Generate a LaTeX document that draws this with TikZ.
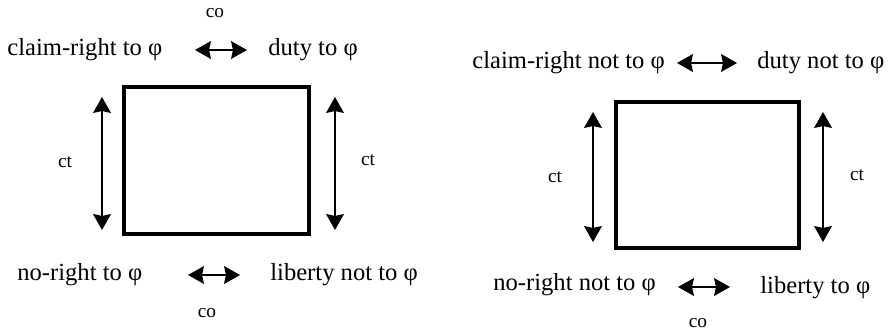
\documentclass[tikz,border=0pt]{standalone}
\usepackage{fontspec}
\setmainfont{Liberation Serif}
\usetikzlibrary{arrows.meta}

\begin{document}
\begin{tikzpicture}[x=0.02cm, y=-0.02cm,
    >={Stealth[length=9pt, width=10pt, inset=1pt]},
    term/.style={anchor=west, inner sep=0pt, font=\fontsize{14pt}{16pt}\selectfont},
    rel/.style={inner sep=0pt, font=\fontsize{11pt}{12pt}\selectfont},
    relarrow/.style={<->, line width=1.4pt},
    sq/.style={line width=2pt}]
    % Canvas of the reference (y runs downwards)
    \useasboundingbox (0,0) rectangle (893,331);

    % ================= Left square =================
    \node[term] (cr1) at (7,50) {claim-right to φ};
    \node[term] (du1) at (268,50) {duty to φ};
    \node[term] (nr1) at (17,275) {no-right to φ};
    \node[term] (lb1) at (270,275) {liberty not to φ};

    % Relation labels
    \node[rel] (co1) at (215,13) {co};
    \node[rel] (co2) at (207,313) {co};
    \node[rel] (ct1) at (65,162) {ct};
    \node[rel] (ct2) at (368,160) {ct};

    % Arrow ends
    \coordinate (t1a) at (195,50);
    \coordinate (t1b) at (247,50);
    \coordinate (b1a) at (188,275);
    \coordinate (b1b) at (240,275);
    \coordinate (l1a) at (102,97);
    \coordinate (l1b) at (102,230);
    \coordinate (r1a) at (335,97);
    \coordinate (r1b) at (335,230);

    \draw[sq] (124,87) rectangle (309,234);
    \draw[relarrow] (t1a) -- (t1b);
    \draw[relarrow] (b1a) -- (b1b);
    \draw[relarrow] (l1a) -- (l1b);
    \draw[relarrow] (r1a) -- (r1b);

    % ================= Right square =================
    \node[term] (cr2) at (472,63) {claim-right not to φ};
    \node[term] (du2) at (757,63) {duty not to φ};
    \node[term] (nr2) at (493,285) {no-right not to φ};
    \node[term] (lb2) at (760,288) {liberty to φ};

    % Relation labels
    \node[rel] (co3) at (698,323) {co};
    \node[rel] (ct3) at (555,177) {ct};
    \node[rel] (ct4) at (857,175) {ct};

    % Arrow ends
    \coordinate (t2a) at (677,63);
    \coordinate (t2b) at (737,63);
    \coordinate (b2a) at (678,287);
    \coordinate (b2b) at (730,287);
    \coordinate (l2a) at (593,112);
    \coordinate (l2b) at (593,242);
    \coordinate (r2a) at (823,112);
    \coordinate (r2b) at (823,242);

    \draw[sq] (616,102) rectangle (799,248);
    \draw[relarrow] (t2a) -- (t2b);
    \draw[relarrow] (b2a) -- (b2b);
    \draw[relarrow] (l2a) -- (l2b);
    \draw[relarrow] (r2a) -- (r2b);

\end{tikzpicture}
\end{document}
